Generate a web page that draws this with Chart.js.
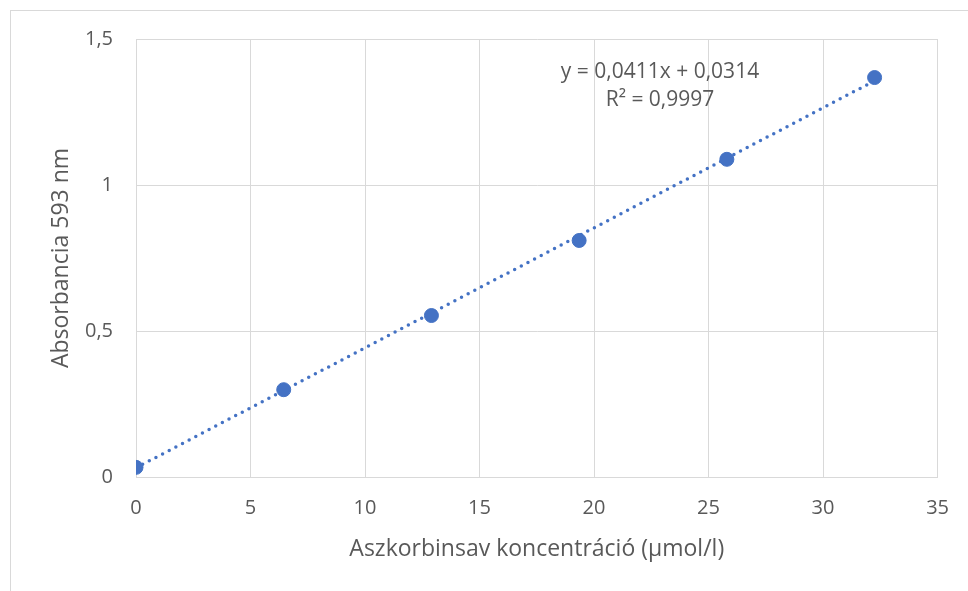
<!DOCTYPE html>
<html>
<head>
<meta charset="utf-8">
<script src="https://cdn.jsdelivr.net/npm/chart.js@4.4.1/dist/chart.umd.min.js"></script>
<style>
  html, body { margin: 0; padding: 0; background: #fff; }
  #wrap { position: relative; width: 968px; height: 591px; }
  #frame { position: absolute; left: 10px; top: 10px; width: 980px; height: 600px;
           border: 1.5px solid #d9d9d9; box-sizing: border-box; }
  canvas { position: absolute; left: 0; top: 0; }
</style>
</head>
<body>
<div id="wrap">
  <div id="frame"></div>
  <canvas id="calChart" width="968" height="591"></canvas>
</div>
<script>
// calibration: ascorbic acid concentration vs absorbance at 593 nm
const concentration = [0, 6.45, 12.9, 19.35, 25.8, 32.25];
const absorbance = [0.033, 0.299, 0.553, 0.810, 1.088, 1.368];

// linear trendline as reported
const slope = 0.0411;
const intercept = 0.0314;
const rSquared = 0.9997;

const xTicks = [0, 5, 10, 15, 20, 25, 30, 35];
const yTicks = [0, 0.5, 1, 1.5];

const blue = '#4472C4';
const textColor = '#595959';
const gridColor = '#d9d9d9';
const fontFamily = "'Open Sans', 'Liberation Sans', sans-serif";

const fmt = v => String(v).replace('.', ',');

const trendX = [concentration[0], concentration[concentration.length - 1]];
const trendPoints = trendX.map(x => ({ x: x, y: slope * x + intercept }));

const equationLabel = {
  id: 'equationLabel',
  afterDatasetsDraw(chart) {
    const ctx = chart.ctx;
    ctx.save();
    ctx.fillStyle = textColor;
    ctx.font = '21px ' + fontFamily;
    ctx.textAlign = 'center';
    ctx.textBaseline = 'middle';
    ctx.fillText('y = ' + fmt(slope) + 'x + ' + fmt(intercept), 660, 72);
    ctx.fillText('R² = ' + fmt(rSquared), 660, 100);
    ctx.restore();
  }
};

new Chart(document.getElementById('calChart'), {
  type: 'scatter',
  data: {
    datasets: [
      {
        label: 'Trendline',
        type: 'line',
        data: trendPoints,
        borderColor: blue,
        borderWidth: 3.5,
        borderDash: [0, 7.5],
        borderCapStyle: 'round',
        pointRadius: 0,
        fill: false,
        order: 2
      },
      {
        label: 'Absorbancia',
        data: concentration.map((x, i) => ({ x: x, y: absorbance[i] })),
        backgroundColor: blue,
        borderColor: blue,
        pointRadius: 7,
        pointHoverRadius: 7,
        order: 1
      }
    ]
  },
  plugins: [equationLabel],
  options: {
    responsive: false,
    animation: false,
    layout: { padding: { left: 0, top: 39, right: 30, bottom: 0 } },
    plugins: {
      legend: { display: false },
      tooltip: { enabled: false }
    },
    scales: {
      x: {
        type: 'linear',
        min: 0,
        max: 35,
        afterFit: scale => { scale.height = 114; },
        afterBuildTicks: scale => { scale.ticks = xTicks.map(v => ({ value: v })); },
        grid: { color: gridColor, lineWidth: 1, drawTicks: false },
        border: { color: gridColor, width: 1 },
        ticks: {
          color: textColor,
          font: { family: fontFamily, size: 20 },
          padding: 19,
          callback: v => fmt(v)
        },
        title: {
          display: true,
          text: 'Aszkorbinsav koncentráció (µmol/l)',
          color: textColor,
          font: { family: fontFamily, size: 23 },
          padding: { top: 0, bottom: 28 }
        }
      },
      y: {
        type: 'linear',
        min: 0,
        max: 1.5,
        afterFit: scale => { scale.width = 136; },
        afterBuildTicks: scale => { scale.ticks = yTicks.map(v => ({ value: v })); },
        grid: { color: gridColor, lineWidth: 1, drawTicks: false },
        border: { color: gridColor, width: 1 },
        ticks: {
          color: textColor,
          font: { family: fontFamily, size: 20 },
          padding: 23,
          callback: v => fmt(v)
        },
        title: {
          display: true,
          text: 'Absorbancia 593 nm',
          color: textColor,
          font: { family: fontFamily, size: 23 },
          padding: { top: 48, bottom: 0 }
        }
      }
    }
  }
});
</script>
</body>
</html>
